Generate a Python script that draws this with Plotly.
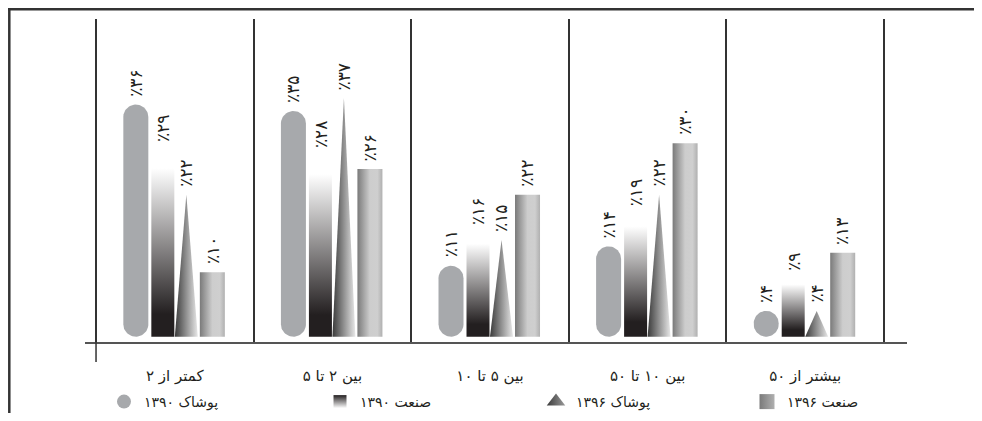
import numpy as np
import plotly.graph_objects as go

# ---------------- data ----------------
categories = ["کمتر از ۲", "بین ۲ تا ۵", "بین ۵ تا ۱۰", "بین ۱۰ تا ۵۰", "بیشتر از ۵۰"]
series_names = ["پوشاک ۱۳۹۰", "صنعت ۱۳۹۰", "پوشاک ۱۳۹۶", "صنعت ۱۳۹۶"]
poushak_1390 = [36, 35, 11, 14, 4]
sanat_1390 = [29, 28, 16, 19, 9]
poushak_1396 = [22, 37, 15, 22, 4]
sanat_1396 = [10, 26, 22, 30, 13]

# ---------------- layout geometry (page has an 8px body margin) ----------------
PAGE_OFF = 8
W, H = 974, 405
ML, MR, MT, MB = 77, 75, 11, 71
X_RANGE = [-0.570, 4.646]
Y_RANGE = [-0.82, 49.26]
plot_w = W - ML - MR
plot_h = H - MT - MB
px_x = plot_w / (X_RANGE[1] - X_RANGE[0])   # pixels per x unit
px_y = plot_h / (Y_RANGE[1] - Y_RANGE[0])   # pixels per y unit

FONT = "DejaVu Sans"
TXT = "#231f20"

fa_digits = str.maketrans("0123456789", "۰۱۲۳۴۵۶۷۸۹")


def pct_label(v):
    return "٪" + str(v).translate(fa_digits)


# bar slot styles: (center offset px, width px)
slots = [(-39, 25), (-12, 23), (11.5, 23), (37.5, 25)]


def rect(cx, hw, v):
    return [cx - hw, cx - hw, cx + hw, cx + hw, cx - hw], [0, v, v, 0, 0]


def tri(cx, hw, v):
    return [cx - hw, cx, cx + hw, cx - hw], [0, v, 0, 0]


def stadium(cx, hw, v):
    ry = min(hw * px_x / px_y, v / 2)
    t1 = np.linspace(0, np.pi, 30)
    t2 = np.linspace(np.pi, 2 * np.pi, 30)
    xs = list(cx + hw * np.cos(t1)) + list(cx + hw * np.cos(t2))
    ys = list(v - ry + ry * np.sin(t1)) + list(ry + ry * np.sin(t2))
    xs.append(xs[0])
    ys.append(ys[0])
    return xs, ys


fig = go.Figure()

series = [poushak_1390, sanat_1390, poushak_1396, sanat_1396]
shape_fns = [stadium, rect, tri, rect]
fills = [
    dict(fillcolor="#a7a9ac"),
    dict(fillgradient=dict(type="vertical",
                           colorscale=[[0, "#231f20"], [0.12, "#231f20"], [0.9, "#ffffff"], [1, "#ffffff"]])),
    dict(fillgradient=dict(type="horizontal",
                           colorscale=[[0, "#3a3a3a"], [1, "#e8e8e8"]])),
    dict(fillgradient=dict(type="horizontal",
                           colorscale=[[0, "#7a7a7a"], [0.5, "#cdcdcd"], [0.8, "#cfcfcf"], [1, "#b0b0b0"]])),
]

annotations = []
for si, vals in enumerate(series):
    off_px, w_px = slots[si]
    for ci, v in enumerate(vals):
        cx = ci + off_px / px_x
        hw = (w_px / 2) / px_x
        xs, ys = shape_fns[si](cx, hw, v)
        fig.add_trace(go.Scatter(
            x=xs, y=ys, mode="lines", fill="toself",
            line=dict(width=0, color="rgba(0,0,0,0)"),
            showlegend=False, hoverinfo="skip", **fills[si]))
        annotations.append(dict(
            x=cx, y=v, xref="x", yref="y", text=pct_label(v),
            textangle=-90, showarrow=False, xanchor="center", yanchor="bottom",
            yshift=6, font=dict(family=FONT, size=17, color=TXT)))

# legend entries, one small legend per entry so each sits where the reference has it
legend_markers = [
    dict(symbol="circle", size=14, color="#a7a9ac"),
    dict(symbol="square", size=13, color="#231f20",
         gradient=dict(type="vertical", color="#ffffff")),
    dict(symbol="triangle-up", size=16, color="#3a3a3a",
         gradient=dict(type="horizontal", color="#9a9a9a")),
    dict(symbol="square", size=15, color="#7a7a7a",
         gradient=dict(type="horizontal", color="#b0b0b0")),
]
legend_marker_px = [128, 344, 560, 771]   # page x of each legend marker
legend_ids = ["legend", "legend2", "legend3", "legend4"]
legend_layout = {}
for name, mk, lid, mx in zip(series_names, legend_markers, legend_ids, legend_marker_px):
    fig.add_trace(go.Scatter(x=[None], y=[None], mode="markers", name=name,
                             marker=mk, showlegend=True, legend=lid))
    legend_layout[lid] = dict(
        orientation="h", xref="container", yref="container",
        x=(mx - 24 - PAGE_OFF) / W, xanchor="left",
        y=1 - (402 - PAGE_OFF) / H, yanchor="middle",
        font=dict(family=FONT, size=14, color=TXT),
        bgcolor="rgba(0,0,0,0)")


def px_to_paper_x(p):
    return (p - PAGE_OFF - ML) / plot_w


def px_to_paper_y(p):
    return (H - MB - (p - PAGE_OFF)) / plot_h


shapes = [
    dict(type="line", xref="paper", yref="paper",
         x0=px_to_paper_x(8), x1=px_to_paper_x(990), y0=px_to_paper_y(9.3), y1=px_to_paper_y(9.3),
         line=dict(color="#333333", width=2.5)),
    dict(type="line", xref="paper", yref="paper",
         x0=px_to_paper_x(9.3), x1=px_to_paper_x(9.3), y0=px_to_paper_y(8), y1=px_to_paper_y(430),
         line=dict(color="#333333", width=2.5)),
    dict(type="line", xref="x", yref="paper",
         x0=-0.5, x1=-0.5, y0=px_to_paper_y(362), y1=0,
         line=dict(color="#333333", width=1.5)),
]

fig.update_layout(
    width=W, height=H,
    margin=dict(l=ML, r=MR, t=MT, b=MB, autoexpand=False),
    paper_bgcolor="white", plot_bgcolor="white",
    font=dict(family=FONT, size=15, color=TXT),
    xaxis=dict(range=X_RANGE, tickvals=list(range(len(categories))),
               ticktext=categories,
               showgrid=False, zeroline=False,
               ticks="outside", ticklen=19, tickcolor="rgba(0,0,0,0)",
               showline=True, linecolor="#555555", linewidth=1.5,
               tickfont=dict(family=FONT, size=15, color=TXT),
               minor=dict(tick0=-0.5, dtick=1, showgrid=True,
                          gridcolor="#333333", gridwidth=1.5, ticks="")),
    yaxis=dict(range=Y_RANGE, visible=False, showgrid=False, zeroline=False),
    showlegend=True,
    annotations=annotations,
    shapes=shapes,
    **legend_layout,
)

fig.write_html("out.html")
